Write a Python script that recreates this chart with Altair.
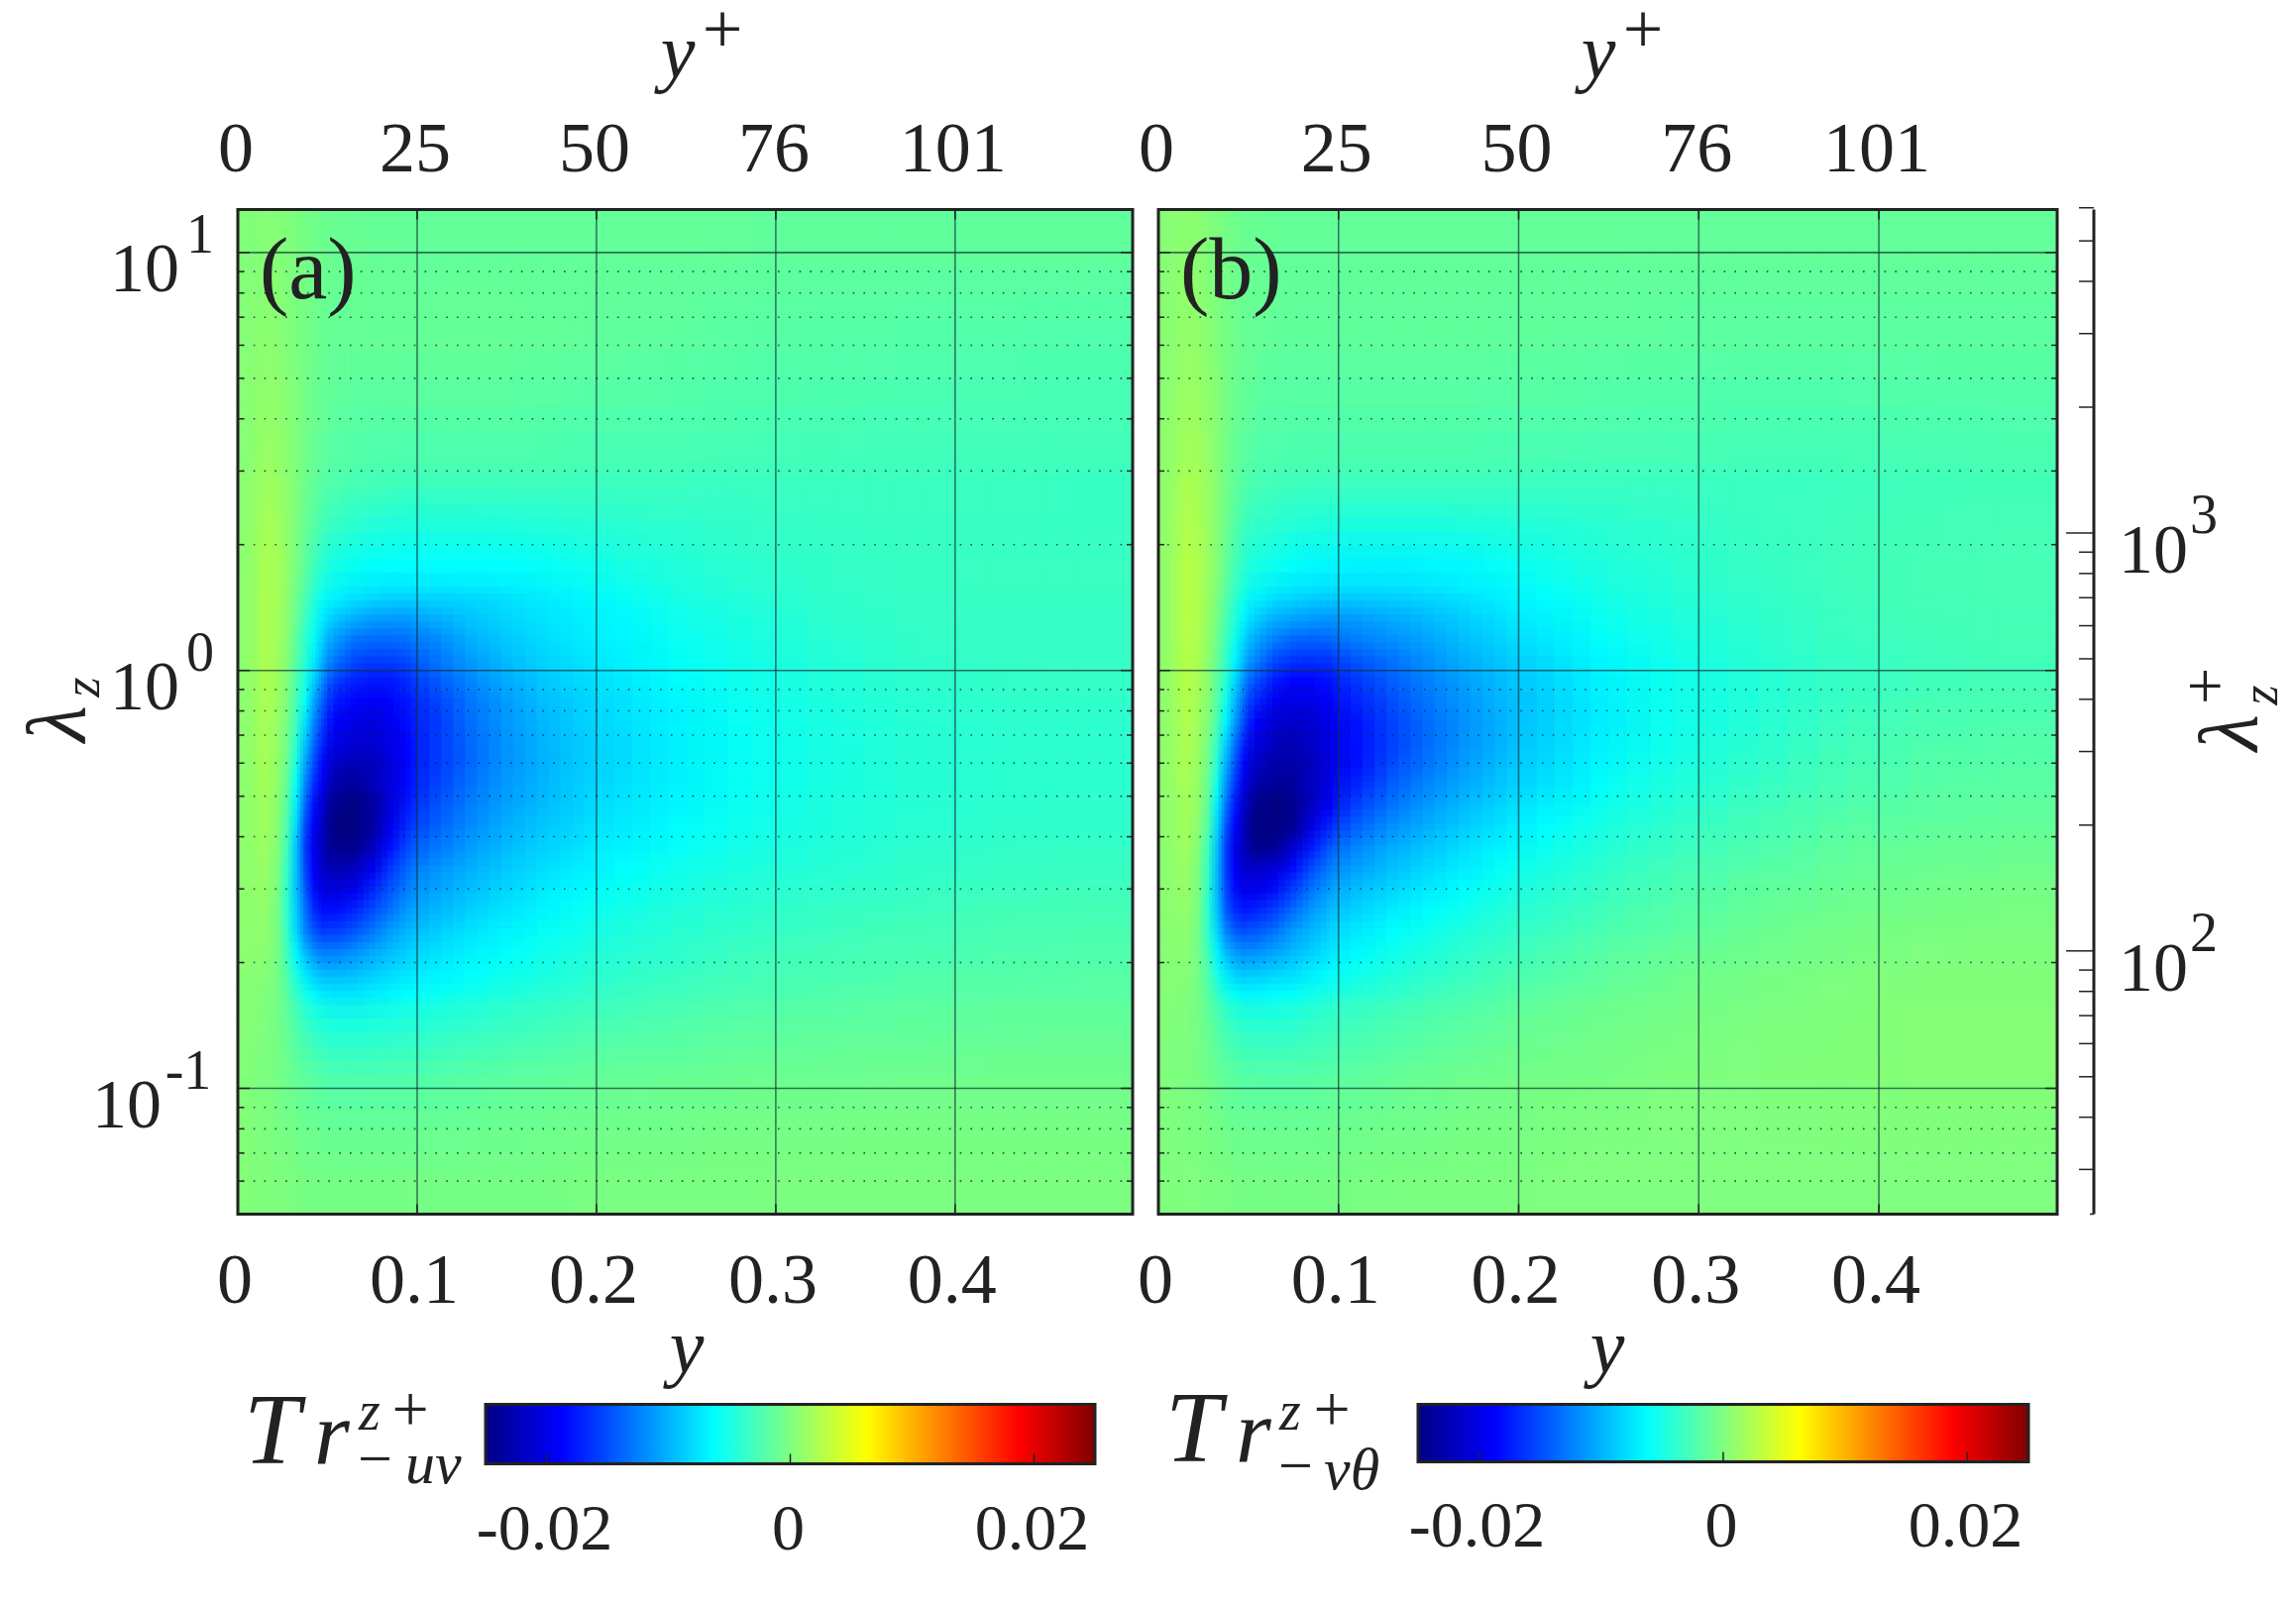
import altair as alt
import pandas as pd

FONT = "Liberation Serif"
INK = "#222222"

# column edges along y, row edges in log10(lambda_z)
y_edges = [0, .01, .02, .025, .03, .035, .04, .045, .05, .06, .07, .08, .09, .10, .12, .14, .16, .18, .20, .23, .26, .30, .35, .40, .45, .499]
log_lam_edges = [1.1026, .9, .7, .5, .4, .3, .2, .15, .1, .05, 0, -.05, -.1, -.15, -.2, -.25, -.3, -.35, -.4, -.45, -.5, -.55, -.6, -.65, -.7, -.75, -.8, -.9, -1, -1.15, -1.301]

# Tr values in units of 1e-3, one row per lambda band, top to bottom
tr_uv = [
[.2,.4,.3,.1,-.1,-.4,-.6,-.8,-1,-1.1,-1.2,-1.2,-1.2,-1.3,-1.3,-1.3,-1.3,-1.3,-1.3,-1.3,-1.4,-1.5,-1.5,-1.5,-1.5],
[.3,.6,.5,.2,-.1,-.4,-.7,-1,-1.2,-1.2,-1.2,-1.2,-1.2,-1.2,-1.2,-1.2,-1.3,-1.4,-1.5,-1.6,-1.8,-2,-2.1,-2.2,-2.3],
[.4,1,.9,.5,.1,-.4,-.9,-1.3,-1.6,-1.8,-1.9,-2,-2,-2,-2,-2,-2.1,-2.2,-2.3,-2.4,-2.5,-2.6,-2.7,-2.7,-2.8],
[.6,1.5,1.3,.7,.1,-.7,-1.3,-1.8,-2.3,-2.6,-2.8,-2.9,-3,-3,-3,-3,-3,-3.1,-3.2,-3.2,-3.3,-3.3,-3.3,-3.3,-3.4],
[.7,1.9,1.6,.9,0,-1,-1.9,-2.8,-3.5,-4,-4.4,-4.6,-4.7,-4.7,-4.7,-4.6,-4.5,-4.3,-4.1,-3.9,-3.7,-3.5,-3.4,-3.4,-3.4],
[.7,2.1,1.8,.9,-.2,-1.5,-3,-4.2,-5.2,-5.8,-6.1,-6.2,-6.3,-6.3,-6.3,-6.2,-5.9,-5.6,-5.1,-4.6,-4.1,-3.7,-3.4,-3.3,-3.3],
[.8,2.2,1.8,.8,-.6,-2.4,-4.4,-5.8,-6.8,-7.5,-7.9,-8.1,-8.2,-8.2,-8,-7.5,-7,-6.5,-5.9,-5.1,-4.5,-3.9,-3.5,-3.4,-3.4],
[.8,2.2,1.7,.7,-1,-3,-5,-7,-8.8,-10,-10.8,-11,-11,-10,-9,-8.2,-7.5,-7,-6.4,-5.5,-4.9,-4.1,-3.6,-3.5,-3.5],
[.8,2.2,1.6,.5,-1.5,-3.7,-6,-8.5,-11,-12.8,-13.3,-13.3,-13,-12,-10,-8.8,-7.8,-7.2,-6.5,-5.7,-5.1,-4.3,-3.7,-3.5,-3.5],
[.8,2.2,1.5,.3,-1.8,-4.2,-7,-10,-13,-15,-15.5,-15.5,-15,-13,-11,-9.5,-8.3,-7.6,-6.8,-6,-5.3,-4.5,-3.8,-3.6,-3.5],
[.8,2.2,1.4,.1,-2.2,-5,-8.5,-12,-15.5,-17,-17.5,-17.5,-16.5,-14.5,-12,-10.2,-9,-8,-7.2,-6.3,-5.5,-4.7,-4,-3.7,-3.6],
[.8,2.1,1.3,-.1,-2.7,-6,-10.5,-14,-17.5,-18.5,-19,-18.5,-17.5,-15.5,-12.8,-11,-9.4,-8.4,-7.5,-6.5,-5.7,-4.9,-4.2,-3.9,-3.8],
[.8,2,1.1,-.4,-3.3,-7.5,-12,-15.5,-19,-20,-20.5,-19.5,-18,-16,-13.2,-11.2,-9.7,-8.6,-7.7,-6.7,-5.8,-5,-4.3,-4,-3.9],
[.8,2,1,-.7,-4,-9,-13.5,-17,-20,-21,-21,-20,-18.5,-16,-13.5,-11.4,-9.9,-8.8,-7.8,-6.8,-5.9,-5.1,-4.4,-4.1,-4],
[.8,1.9,.8,-1,-5,-10.5,-15,-18.5,-21.5,-22.5,-22,-20.5,-18.5,-16,-13.5,-11.4,-10,-8.8,-7.8,-6.8,-5.9,-5.1,-4.4,-4.1,-4],
[.8,1.8,.6,-1.5,-6,-12,-16.5,-19.5,-23,-23.8,-22.5,-20.5,-18.2,-15.5,-13,-11,-9.8,-8.6,-7.6,-6.7,-5.8,-5,-4.4,-4.1,-4],
[.8,1.7,.4,-2,-7,-13.5,-18,-21,-24.5,-25,-23.5,-20.5,-17.5,-14.8,-12.5,-10.7,-9.5,-8.4,-7.4,-6.5,-5.7,-4.9,-4.3,-4,-3.9],
[.8,1.6,.2,-2.5,-8,-15,-19,-22,-25,-25,-23.5,-19.5,-16.5,-14,-11.8,-10,-9,-8,-7.1,-6.3,-5.5,-4.8,-4.2,-3.9,-3.8],
[.8,1.4,0,-3,-9,-15.5,-19.5,-22,-24.5,-24.5,-22,-18,-15,-12.8,-11,-9.5,-8.4,-7.5,-6.7,-5.9,-5.2,-4.6,-4,-3.7,-3.6],
[.8,1.2,-.3,-3.5,-9,-15,-19,-21.5,-22.5,-22,-19.5,-16,-13.5,-11.5,-10,-8.8,-7.8,-7,-6.2,-5.5,-4.9,-4.3,-3.8,-3.5,-3.4],
[.8,1.1,-.5,-3.8,-9,-14,-18,-20,-20.5,-19.5,-17,-14.5,-12.5,-10.7,-9.3,-8.1,-7.2,-6.4,-5.7,-5.1,-4.5,-3.9,-3.5,-3.2,-3.1],
[.7,.9,-.6,-3.8,-8.5,-13,-16.5,-18,-18,-17,-15,-13,-11,-9.7,-8.4,-7.4,-6.6,-5.9,-5.2,-4.6,-4.1,-3.6,-3.2,-2.9,-2.8],
[.7,.8,-.6,-3.6,-8,-12,-14.5,-15.8,-15.5,-14.5,-12.8,-11,-9.8,-8.7,-7.5,-6.7,-6,-5.4,-4.8,-4.2,-3.7,-3.3,-2.9,-2.6,-2.5],
[.6,.6,-.6,-3,-6.5,-9.5,-11.5,-12.5,-12.5,-11.5,-10.3,-9.3,-8.5,-7.7,-6.8,-6.1,-5.5,-4.9,-4.3,-3.8,-3.3,-2.9,-2.6,-2.4,-2.3],
[.5,.4,-.6,-2.4,-5,-7.3,-8.8,-9.6,-9.8,-9.4,-8.7,-8,-7.4,-6.8,-6.2,-5.6,-5,-4.4,-3.9,-3.4,-3,-2.6,-2.3,-2.1,-2],
[.4,.2,-.6,-1.9,-3.7,-5.3,-6.4,-7.2,-7.5,-7.4,-7,-6.6,-6.2,-5.9,-5.3,-4.8,-4.3,-3.9,-3.4,-3,-2.6,-2.3,-2,-1.9,-1.8],
[.3,0,-.5,-1.3,-2.3,-3.3,-4,-4.5,-4.8,-4.9,-4.7,-4.6,-4.4,-4.2,-3.8,-3.4,-3.1,-2.8,-2.5,-2.2,-1.9,-1.7,-1.5,-1.4,-1.3],
[.2,-.1,-.4,-.8,-1.3,-1.8,-2.2,-2.5,-2.7,-2.8,-2.8,-2.7,-2.6,-2.5,-2.2,-2,-1.8,-1.6,-1.4,-1.3,-1.1,-1,-.9,-.8,-.8],
[.2,-.1,-.3,-.5,-.7,-.9,-1.1,-1.2,-1.3,-1.3,-1.3,-1.3,-1.3,-1.2,-1.1,-1,-.9,-.8,-.7,-.6,-.5,-.5,-.4,-.4,-.4],
[.2,.1,0,-.1,-.2,-.3,-.3,-.4,-.4,-.4,-.4,-.4,-.4,-.4,-.3,-.3,-.3,-.2,-.2,-.2,-.2,-.1,-.1,-.1,-.1],
]
tr_vt = [
[.3,.6,.5,.2,-.1,-.4,-.7,-.9,-1.1,-1.2,-1.3,-1.3,-1.3,-1.3,-1.3,-1.3,-1.3,-1.3,-1.3,-1.3,-1.4,-1.4,-1.4,-1.4,-1.4],
[.5,1,.9,.5,.1,-.3,-.7,-1,-1.2,-1.4,-1.5,-1.5,-1.5,-1.5,-1.5,-1.5,-1.5,-1.5,-1.5,-1.6,-1.6,-1.7,-1.7,-1.7,-1.7],
[.7,1.5,1.4,.9,.3,-.3,-1,-1.4,-1.8,-2,-2.1,-2.1,-2.1,-2.1,-2.1,-2.1,-2.1,-2.2,-2.2,-2.3,-2.4,-2.5,-2.5,-2.4,-2.3],
[.9,2.1,1.9,1.2,.5,-.5,-1.4,-2.1,-2.6,-2.9,-3,-3.1,-3.1,-3.1,-3.1,-3.1,-3.1,-3.2,-3.2,-3.3,-3.3,-3.3,-3.2,-3,-2.9],
[1,2.4,2.1,1.4,.4,-.8,-2,-3,-3.7,-4.1,-4.4,-4.6,-4.7,-4.8,-4.8,-4.8,-4.7,-4.6,-4.4,-4.1,-3.8,-3.4,-3.1,-2.9,-2.8],
[1,2.7,2.3,1.4,.3,-1.2,-2.8,-4,-5,-5.6,-6.1,-6.4,-6.6,-6.7,-6.7,-6.6,-6.4,-5.9,-5.4,-4.8,-4.2,-3.6,-3.1,-2.8,-2.7],
[1,2.7,2.3,1.3,-.1,-2,-3.8,-5.3,-6.8,-7.6,-8.1,-8.4,-8.6,-8.6,-8.4,-8,-7.5,-6.9,-6.2,-5.3,-4.6,-3.8,-3.2,-2.8,-2.7],
[1,2.7,2.2,1.2,-.4,-2.5,-4.6,-6.5,-8.5,-10,-10.5,-11,-11.2,-11,-10.2,-9.5,-8.5,-7.6,-6.7,-5.7,-4.9,-4,-3.3,-2.9,-2.8],
[1,2.7,2.1,1,-.8,-3,-5.5,-8,-10.5,-12.5,-13.5,-13.8,-13.5,-12.5,-11.5,-10.5,-9.3,-8.3,-7.2,-6.1,-5.2,-4.2,-3.4,-3,-2.8],
[1,2.6,2,.8,-1.2,-3.5,-6.5,-9.5,-12.5,-15,-16,-16.2,-16,-14.5,-13,-11.5,-10,-9,-7.8,-6.5,-5.5,-4.4,-3.5,-3.1,-2.9],
[1,2.6,1.9,.6,-1.6,-4.3,-8,-11.5,-15,-17.5,-18.5,-18.5,-17.8,-16,-14,-12.3,-10.8,-9.5,-8.2,-6.8,-5.6,-4.6,-3.6,-3,-2.8],
[.9,2.5,1.7,.4,-2,-5.5,-9.5,-13.5,-17,-19.5,-20,-19.8,-18.8,-17,-14.8,-12.8,-11.2,-9.8,-8.4,-6.9,-5.6,-4.6,-3.5,-2.8,-2.6],
[.9,2.4,1.5,.1,-2.6,-6.8,-11,-15,-19,-21,-21.5,-21,-19.8,-17.8,-15.4,-13.3,-11.5,-10,-8.5,-7,-5.6,-4.5,-3.3,-2.6,-2.4],
[.9,2.3,1.3,-.3,-3.5,-8.5,-13,-17,-20.5,-22,-22.5,-21.5,-20.2,-18,-15.5,-13.3,-11.4,-9.9,-8.3,-6.8,-5.5,-4.3,-3.1,-2.4,-2.2],
[.9,2.2,1,-.7,-4.5,-10,-14.5,-18.5,-21.5,-23,-23,-22,-20.3,-18,-15,-12.8,-11,-9.5,-8,-6.5,-5.2,-4,-2.9,-2.2,-2],
[.9,2,.8,-1.1,-5.5,-11.5,-16,-20,-23,-24,-23.5,-22,-20,-17,-14,-12,-10.3,-8.9,-7.5,-6.1,-4.9,-3.7,-2.7,-2,-1.8],
[.8,1.8,.6,-1.6,-7,-13,-17.5,-21,-24.5,-25,-24.5,-21.5,-19,-15.5,-12.8,-11,-9.5,-8.2,-6.9,-5.6,-4.5,-3.3,-2.4,-1.8,-1.6],
[.8,1.7,.3,-2.2,-8,-14.5,-18.5,-22,-25,-25,-24,-20,-17,-13.8,-11.5,-10,-8.7,-7.5,-6.3,-5.1,-4,-2.9,-2,-1.5,-1.3],
[.7,1.5,0,-3,-9,-15.5,-19.5,-22,-24.5,-24,-21,-17.5,-14.5,-12.2,-10.2,-8.9,-7.7,-6.7,-5.6,-4.5,-3.5,-2.5,-1.7,-1.2,-1],
[.7,1.3,-.3,-3.5,-9.5,-15.5,-19,-21,-21.5,-20.5,-18,-15,-12.7,-10.8,-9.2,-8,-7,-6,-5,-4,-3,-2.1,-1.4,-.9,-.7],
[.7,1.1,-.5,-3.8,-9.5,-15,-18,-19.5,-19.5,-18,-15.5,-13,-11,-9.4,-8.1,-7.1,-6.2,-5.3,-4.4,-3.5,-2.6,-1.7,-1.1,-.6,-.4],
[.6,.9,-.6,-4,-9,-14,-16.5,-17.5,-17,-15.5,-13.3,-11.2,-9.6,-8.3,-7.1,-6.2,-5.4,-4.6,-3.8,-3,-2.2,-1.4,-.8,-.4,-.2],
[.5,.7,-.7,-3.8,-8,-12,-14,-14.8,-14.3,-13,-11,-9.7,-8.4,-7.3,-6.3,-5.4,-4.7,-4,-3.3,-2.5,-1.8,-1.1,-.5,-.2,-.1],
[.4,.5,-.7,-3,-6.5,-9.5,-11,-11.8,-11.5,-10.5,-9.5,-8.5,-7.4,-6.4,-5.5,-4.7,-4,-3.4,-2.7,-2,-1.4,-.8,-.3,0,.1],
[.3,.3,-.7,-2.4,-5,-7.2,-8.5,-9,-8.8,-8.3,-7.8,-7,-6.3,-5.5,-4.7,-4,-3.4,-2.8,-2.2,-1.6,-1,-.5,-.1,.1,.2],
[.3,.1,-.6,-1.8,-3.5,-5,-6,-6.5,-6.5,-6.3,-6,-5.5,-5,-4.4,-3.8,-3.2,-2.7,-2.3,-1.7,-1.2,-.7,-.3,0,.2,.2],
[.2,0,-.5,-1.2,-2.1,-3,-3.6,-4,-4.2,-4.2,-4,-3.7,-3.4,-3,-2.5,-2.1,-1.8,-1.4,-1,-.7,-.4,-.1,.1,.3,.3],
[.1,-.1,-.4,-.7,-1.2,-1.6,-2,-2.3,-2.4,-2.4,-2.4,-2.3,-2.1,-1.8,-1.5,-1.2,-.9,-.7,-.5,-.3,-.1,0,.2,.3,.3],
[.1,-.1,-.2,-.4,-.6,-.8,-1,-1.1,-1.1,-1.2,-1.1,-1.1,-1,-.9,-.7,-.6,-.4,-.3,-.2,-.1,0,0,.1,.1,.1],
[.1,0,0,-.1,-.1,-.2,-.3,-.3,-.3,-.3,-.3,-.3,-.3,-.2,-.2,-.1,-.1,-.1,0,0,0,0,0,0,0],
]

y_ticks = [.1, .2, .3, .4]
y_label_ticks = [0, .1, .2, .3, .4]
y_labels = ["0", "0.1", "0.2", "0.3", "0.4"]
y_plus_labels = ["0", "25", "50", "76", "101"]
lam_major = [.1, 1, 10]
lam_minor = [.06, .07, .08, .09, .2, .3, .4, .5, .6, .7, .8, .9, 2, 3, 4, 5, 6, 7, 8, 9]
lam_plus_major = [100, 1000]
lam_plus_minor = [30, 40, 50, 60, 70, 80, 90, 200, 300, 400, 500, 600, 700, 800, 900, 2000, 3000, 4000, 5000, 6000]
LAM_PLUS_PER_LAM = 469
cb_ticks = [-.02, 0, .02]
cb_labels = ["-0.02", "0", "0.02"]
jet_positions = [0, .125, .375, .625, .875, 1]
jet_colors = ["#000084", "#0000ff", "#00ffff", "#ffff00", "#ff0000", "#800000"]
cb_limit = .025
# the cells are overdrawn at these fractions of their own size, which softens the cell boundaries
soften = [-1 / 3, 0, 1 / 3]

W_A, W_B, H = 903, 907, 1014
x_scale = alt.Scale(domain=[0, .499], nice=False, zero=False)
y_scale = alt.Scale(type="log", domain=[.05, 12.67], nice=False)
color_scale = alt.Scale(domain=[-cb_limit + cb_limit * 2 * p for p in jet_positions], range=jet_colors, interpolate="rgb", clamp=True)


def moved(edges, f):
    out = list(edges)
    for k in range(1, len(edges) - 1):
        other = edges[k + 1] if f > 0 else edges[k - 1]
        out[k] = edges[k] + abs(f) * (other - edges[k])
    return out


def cells(rows, fx, fy):
    xs, ls = moved(y_edges, fx), moved(log_lam_edges, fy)
    out = []
    for i, row in enumerate(rows):
        for j, v in enumerate(row):
            out.append({"x0": round(xs[j], 5), "x1": round(xs[j + 1], 5), "l0": round(10 ** ls[i + 1], 5), "l1": round(10 ** ls[i], 5), "v": v / 1000})
    return pd.DataFrame(out)


def txt(s, x, y, size, style="normal", align="left", angle=0):
    return alt.Chart(pd.DataFrame({"t": [s]})).mark_text(
        font=FONT, fontSize=size, fontStyle=style, align=align, baseline="alphabetic",
        angle=angle, color=INK
    ).encode(x=alt.value(x), y=alt.value(y), text="t:N")


def rules_h(values, **kw):
    return alt.Chart(pd.DataFrame({"l": values})).mark_rule(**kw)


def X(name="x"):
    return alt.X(f"{name}:Q", scale=x_scale, axis=None)


def Y(name="l"):
    return alt.Y(f"{name}:Q", scale=y_scale, axis=None)


def heat_layers(rows):
    out = []
    n = 0
    for fy in soften:
        for fx in soften:
            n += 1
            kw = {"opacity": 1 / n}
            enc = dict(x=X("x0"), x2="x1:Q", y=Y("l0"), y2="l1:Q", color=alt.Color("v:Q", scale=color_scale, legend=None))
            if n == 1:
                kw["strokeWidth"] = 1
                enc["stroke"] = alt.Stroke("v:Q", scale=color_scale, legend=None)
            out.append(alt.Chart(cells(rows, fx, fy)).mark_rect(**kw).encode(**enc))
    return out


def panel(rows, width, tag, left_labels, right_axis):
    ydf = pd.DataFrame({"x": y_ticks})
    grid_color = "#16323a"
    layers = heat_layers(rows) + [
        alt.Chart(ydf).mark_rule(color=grid_color, opacity=.65, strokeWidth=1.6).encode(x=X()),
        rules_h(lam_major, color=grid_color, opacity=.7, strokeWidth=1.6).encode(y=Y()),
        rules_h(lam_minor, color="#0c2028", opacity=.75, strokeWidth=1.6, strokeDash=[1.6, 9.2]).encode(y=Y()),
        alt.Chart(ydf).mark_rule(color=INK, strokeWidth=1.5).encode(x=X(), y=alt.value(0), y2=alt.value(10)),
        alt.Chart(ydf).mark_rule(color=INK, strokeWidth=1.5).encode(x=X(), y=alt.value(H - 10), y2=alt.value(H)),
        rules_h(lam_major, color=INK, strokeWidth=1.5).encode(y=Y(), x=alt.value(0), x2=alt.value(12)),
        rules_h(lam_minor, color=INK, strokeWidth=1.5).encode(y=Y(), x=alt.value(0), x2=alt.value(6)),
        rules_h(lam_major, color=INK, strokeWidth=1.5).encode(y=Y(), x=alt.value(width - 12), x2=alt.value(width)),
        rules_h(lam_minor, color=INK, strokeWidth=1.5).encode(y=Y(), x=alt.value(width - 6), x2=alt.value(width)),
        alt.Chart(pd.DataFrame({"a": [1]})).mark_rect(filled=False, stroke=INK, strokeWidth=3).encode(
            x=alt.value(0), x2=alt.value(width), y=alt.value(0), y2=alt.value(H)),
        alt.Chart(pd.DataFrame({"x": y_label_ticks, "t": y_plus_labels})).mark_text(
            font=FONT, fontSize=72, color=INK, baseline="alphabetic", dx=-2
        ).encode(x=X(), y=alt.value(-39), text="t:N"),
        alt.Chart(pd.DataFrame({"x": y_label_ticks, "t": y_labels})).mark_text(
            font=FONT, fontSize=72, color=INK, baseline="alphabetic", dx=-3
        ).encode(x=X(), y=alt.value(1103), text="t:N"),
        txt("y", 444, -134, 78, "italic", "center"),
        txt("+", 489, -159, 72, "normal", "center"),
        txt("y", 453, 1173, 78, "italic", "center"),
        txt(tag, 22, 89, 88),
    ]
    if left_labels:
        for lam, base, sup, bx, sx in [(10, "10", "1", -59, -38), (1, "10", "0", -59, -38), (.1, "10", "-1", -77, -50)]:
            d = pd.DataFrame({"l": [lam]})
            layers.append(alt.Chart(d).mark_text(font=FONT, fontSize=70, color=INK, align="right", baseline="alphabetic", dy=39, text=base).encode(y=Y(), x=alt.value(bx)))
            layers.append(alt.Chart(d).mark_text(font=FONT, fontSize=56, color=INK, align="center", baseline="alphabetic", text=sup).encode(y=Y(), x=alt.value(sx)))
        layers.append(txt("λ", -155, 519, 85, "italic", "center", 270))
        layers.append(txt("z", -140, 482, 52, "italic", "center", 270))
    if right_axis:
        major = pd.DataFrame({"l": [v / LAM_PLUS_PER_LAM for v in lam_plus_major]})
        minor = pd.DataFrame({"l": [v / LAM_PLUS_PER_LAM for v in lam_plus_minor]})
        layers += [
            alt.Chart(pd.DataFrame({"a": [1]})).mark_rule(color=INK, strokeWidth=3).encode(x=alt.value(944), y=alt.value(0), y2=alt.value(H)),
            alt.Chart(pd.DataFrame({"a": [1]})).mark_rule(color=INK, strokeWidth=1.5).encode(y=alt.value(H), x=alt.value(940), x2=alt.value(944)),
            alt.Chart(major).mark_rule(color=INK, strokeWidth=1.5).encode(y=Y(), x=alt.value(916), x2=alt.value(944)),
            alt.Chart(minor).mark_rule(color=INK, strokeWidth=1.5).encode(y=Y(), x=alt.value(929), x2=alt.value(944)),
        ]
        for lam_p, sup in zip(lam_plus_major, ["2", "3"]):
            d = pd.DataFrame({"l": [lam_p / LAM_PLUS_PER_LAM]})
            layers.append(alt.Chart(d).mark_text(font=FONT, fontSize=70, color=INK, align="left", baseline="alphabetic", dy=40, text="10").encode(y=Y(), x=alt.value(969)))
            layers.append(alt.Chart(d).mark_text(font=FONT, fontSize=56, color=INK, align="center", baseline="alphabetic", text=sup).encode(y=Y(), x=alt.value(1055)))
        layers += [
            txt("λ", 1108, 528, 85, "italic", "center", 270),
            txt("z", 1129, 490, 52, "italic", "center", 270),
            txt("+", 1078, 481, 66, "normal", "center", 270),
        ]
    return alt.layer(*layers).properties(width=width, height=H)


def colorbar(width, px0, px1, height, label_y, extra):
    cb_scale = alt.Scale(domain=[-cb_limit, cb_limit], range=[px0, px1], nice=False, zero=False)
    grad = alt.LinearGradient(
        gradient="linear", x1=0, x2=1, y1=0, y2=0,
        stops=[alt.GradientStop(color=c, offset=p) for c, p in zip(jet_colors, jet_positions)],
    )
    bar = alt.Chart(pd.DataFrame({"a": [-cb_limit], "b": [cb_limit]})).mark_rect(fill=grad, stroke=INK, strokeWidth=3).encode(
        x=alt.X("a:Q", scale=cb_scale, axis=None), x2="b:Q", y=alt.value(0), y2=alt.value(height))
    ticks = alt.Chart(pd.DataFrame({"c": cb_ticks})).mark_rule(color=INK, strokeWidth=1.5).encode(
        x=alt.X("c:Q", scale=cb_scale, axis=None), y=alt.value(height - 10), y2=alt.value(height))
    labels = alt.Chart(pd.DataFrame({"c": cb_ticks, "t": cb_labels})).mark_text(
        font=FONT, fontSize=66, color=INK, baseline="alphabetic", dx=-2
    ).encode(x=alt.X("c:Q", scale=cb_scale, axis=None), y=alt.value(label_y), text="t:N")
    return alt.layer(bar, ticks, labels, *extra).properties(width=width, height=height)


extra_a = [
    txt("T", 6, 59, 102, "italic"), txt("r", 77, 59, 92, "italic"),
    txt("z", 122, 25, 56, "italic"), txt("+", 174, 26, 66, "normal", "center"),
    txt("−", 121, 75, 62), txt("uv", 169, 79, 60, "italic"),
]
extra_b = [
    txt("T", 7, 57, 102, "italic"), txt("r", 78, 57, 92, "italic"),
    txt("z", 122, 25, 56, "italic"), txt("+", 175, 26, 66, "normal", "center"),
    txt("−", 121, 82, 62), txt("vθ", 167, 85, 60, "italic"),
]

chart = alt.concat(
    panel(tr_uv, W_A, "(a)", True, False),
    panel(tr_vt, W_B, "(b)", False, True),
    colorbar(W_A, 250, 865, 60, 146, extra_a),
    colorbar(W_B, 262, 878, 58, 143, extra_b),
    columns=2, spacing=26, bounds="flush",
).properties(padding={"left": 9, "top": -13.5, "right": 0, "bottom": 0}).configure_view(strokeWidth=0, stroke=None)

chart.spacing = alt.RowColnumber(row=192, column=26)
chart.save("out.html", embed_options={"renderer": "svg", "actions": False})
